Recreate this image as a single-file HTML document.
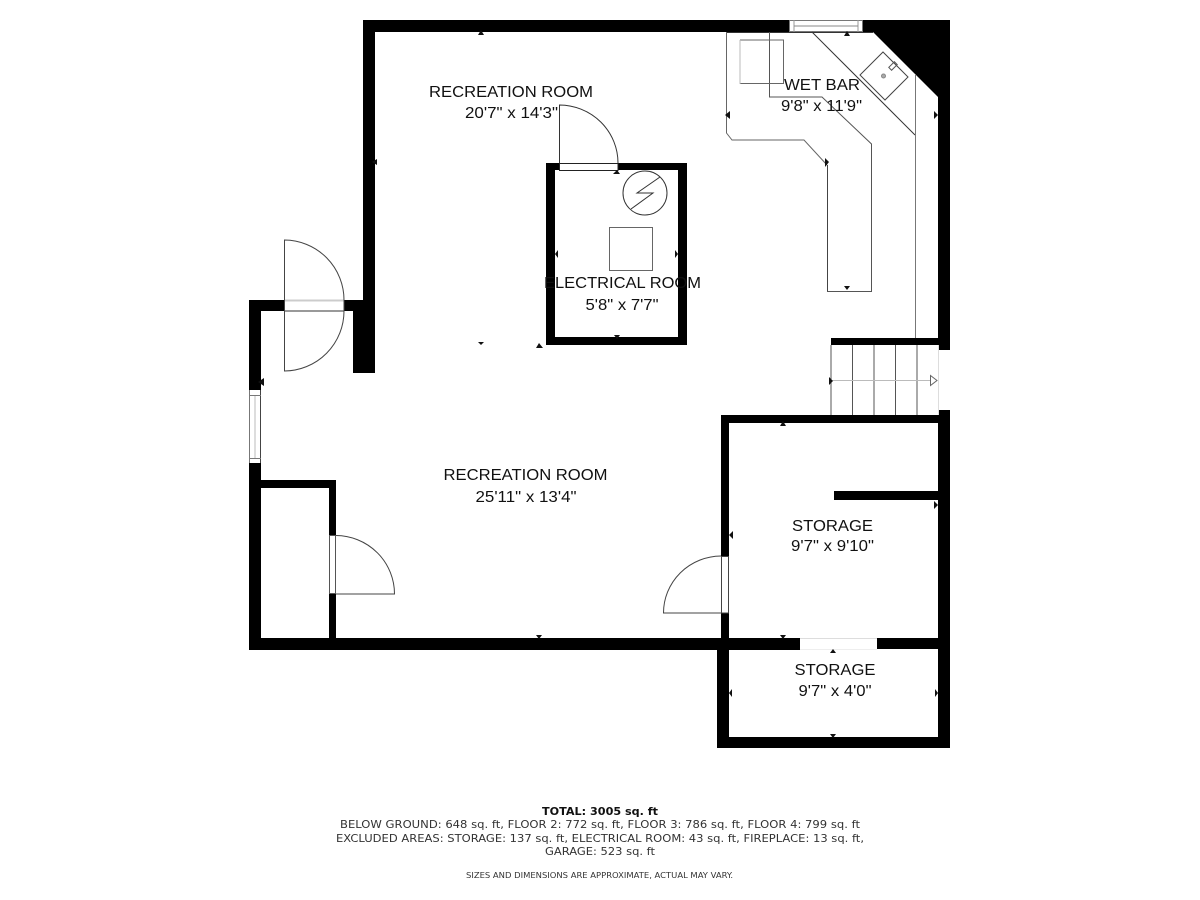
<!DOCTYPE html>
<html><head><meta charset="utf-8"><style>
html,body{margin:0;padding:0;background:#fff}
svg{display:block}
.r{font-family:"Liberation Sans",Arial,sans-serif;font-size:16px;fill:#111;text-anchor:middle}
.f{font-family:"DejaVu Sans",Verdana,sans-serif;font-size:10.5px;fill:#333;text-anchor:middle}
</style></head><body>
<svg width="1200" height="900" viewBox="0 0 1200 900" xmlns="http://www.w3.org/2000/svg">
<rect width="1200" height="900" fill="#fff"/>
<!-- walls -->
<g fill="#000">
<rect x="363" y="20" width="426" height="12"/>
<rect x="363" y="20" width="12" height="280"/>
<polygon points="863,20 950,20 950,350 938,350 938,97 873,32 863,32"/>
<rect x="344" y="300" width="31" height="11"/>
<rect x="353" y="300" width="22" height="73"/>
<rect x="249" y="300" width="35" height="11"/>
<rect x="249" y="300" width="12" height="90"/>
<rect x="249" y="463" width="12" height="187"/>
<rect x="261" y="480" width="75" height="8"/>
<rect x="329" y="480" width="7" height="55"/>
<rect x="329" y="594" width="7" height="50"/>
<rect x="249" y="638" width="551" height="12"/>
<rect x="877" y="638" width="73" height="11"/>
<rect x="721" y="415" width="229" height="8"/>
<rect x="938" y="410" width="12" height="338"/>
<rect x="721" y="415" width="8" height="141"/>
<rect x="721" y="613" width="8" height="30"/>
<rect x="717" y="644" width="12" height="104"/>
<rect x="717" y="737" width="233" height="11"/>
<rect x="834" y="491" width="104" height="9"/>
<rect x="831" y="338" width="107" height="7"/>
<!-- electrical room -->
<rect x="546" y="163" width="9" height="182"/>
<rect x="678" y="163" width="9" height="182"/>
<rect x="546" y="337" width="141" height="8"/>
<rect x="618" y="163" width="69" height="7"/>
<rect x="546" y="163" width="13" height="7"/>
</g>
<!-- fine lines -->
<g fill="none" stroke="#333" stroke-width="1">
<!-- top window -->
<rect x="789.5" y="20.5" width="73" height="11" stroke="#777"/>
<line x1="794" y1="20" x2="794" y2="32" stroke="#999"/>
<line x1="858" y1="20" x2="858" y2="32" stroke="#999"/>
<line x1="794" y1="26" x2="858" y2="26" stroke="#888"/>
<line x1="726" y1="32.5" x2="873" y2="32.5"/>
<!-- wet bar -->
<polyline points="726.5,32 726.5,133 732,140 804,140 827,165" stroke="#666"/>
<line x1="827.5" y1="165" x2="827.5" y2="291.5" stroke="#444"/>
<polyline points="769.5,32 769.5,97 822,97 871.5,144 871.5,291.5 827,291.5" stroke="#555"/>
<line x1="812" y1="32" x2="915" y2="135"/>
<line x1="915.5" y1="75" x2="915.5" y2="338" stroke="#777"/>
<polyline points="740,40 783.5,40 783.5,83.5 740,83.5" stroke="#666"/>
<line x1="740" y1="40" x2="740" y2="84" stroke="#bbb"/>
<polygon points="883,52 908,77 885,100 860,75" stroke="#444"/>
<circle cx="883.5" cy="76" r="2" stroke="#888" fill="#aaa"/>
<rect x="-4" y="-2" width="8" height="4" transform="translate(893,66) rotate(-45)" stroke="#555"/>
<!-- electrical details -->
<rect x="559.5" y="163.5" width="58.5" height="7" stroke="#222" fill="#fff"/>
<path d="M559.5,163 V105 A59,58 0 0 1 618,163"/>
<circle cx="645" cy="193" r="22"/>
<polyline points="631,209 653,193 637,193 660,177"/>
<rect x="609.5" y="227.5" width="43" height="43" stroke="#666"/>
<!-- left doors -->
<line x1="284" y1="300.5" x2="344" y2="300.5" stroke="#ccc" stroke-width="2"/>
<line x1="284" y1="311" x2="344" y2="311"/>
<path d="M284.5,300 V240 A60,60 0 0 1 344,300 V311 A60,60 0 0 1 284.5,371 V311 Z" stroke="#444"/>
<!-- left window -->
<g stroke="#777">
<line x1="249.5" y1="390" x2="249.5" y2="463"/>
<line x1="260.5" y1="390" x2="260.5" y2="463" stroke="#444"/>
<line x1="255" y1="395" x2="255" y2="458" stroke="#bbb"/>
<line x1="249" y1="395.5" x2="261" y2="395.5"/>
<line x1="249" y1="458.5" x2="261" y2="458.5"/>
</g>
<!-- closet door -->
<rect x="329.5" y="535.5" width="6" height="58" stroke="#555"/>
<path d="M336,535.5 A59,58.5 0 0 1 394.5,594 H336" stroke="#444"/>
<!-- storage door -->
<rect x="721.5" y="556.5" width="7" height="56.5" stroke="#444"/>
<path d="M721,556 A58,57 0 0 0 663.5,613 H721" stroke="#444"/>
<!-- stairs -->
<g stroke="#555">
<line x1="831" y1="345" x2="831" y2="415"/>
<line x1="852.5" y1="345" x2="852.5" y2="415"/>
<line x1="874" y1="345" x2="874" y2="415"/>
<line x1="895.5" y1="345" x2="895.5" y2="415"/>
<line x1="917" y1="345" x2="917" y2="415"/>
</g>
<line x1="831" y1="380.5" x2="930" y2="380.5" stroke="#bbb"/>
<line x1="938.5" y1="345" x2="938.5" y2="415" stroke="#ddd"/>
<polygon points="930.5,375.5 937,380.5 930.5,385.5" stroke="#666" fill="#fff"/>
<!-- lower opening -->
<line x1="800" y1="638.5" x2="877" y2="638.5" stroke="#ddd"/>
<line x1="800" y1="649.5" x2="877" y2="649.5" stroke="#eee"/>
</g>
<!-- small markers -->
<g fill="#111">
<polygon points="478,35 484,35 481,30"/>
<polygon points="844,36 850,36 847,31"/>
<polygon points="372,162 377,159 377,165"/>
<polygon points="478,342 484,342 481,345"/>
<polygon points="536,348 543,348 539,343"/>
<polygon points="258,382 264,378 264,386"/>
<polygon points="536,635 542,635 539,639"/>
<polygon points="780,426 786,426 783,421"/>
<polygon points="729,535 733,531 733,539"/>
<polygon points="938,505 934,501 934,509"/>
<polygon points="844,286 850,286 847,290"/>
<polygon points="829,162 825,158 825,167"/>
<polygon points="725,115 730,111 730,119"/>
<polygon points="938,115 934,111 934,119"/>
<polygon points="613,174 620,174 617,170"/>
<polygon points="555,254 558,250 558,258"/>
<polygon points="678,254 675,250 675,258"/>
<polygon points="614,335 620,335 617,339"/>
<polygon points="829,377 829,385 833,381"/>
<polygon points="780,635 786,635 783,639"/>
<polygon points="830,653 836,653 833,649"/>
<polygon points="729,693 732,689 732,697"/>
<polygon points="938,693 935,689 935,697"/>
<polygon points="830,734 836,734 833,738"/>
</g>
<!-- labels -->
<text class="r" x="511" y="97" textLength="164" lengthAdjust="spacingAndGlyphs">RECREATION ROOM</text>
<text class="r" x="511.5" y="118" textLength="93" lengthAdjust="spacingAndGlyphs">20'7" x 14'3"</text>
<text class="r" x="822" y="90" textLength="76" lengthAdjust="spacingAndGlyphs">WET BAR</text>
<text class="r" x="821.5" y="111" textLength="81" lengthAdjust="spacingAndGlyphs">9'8" x 11'9"</text>
<text class="r" x="622.5" y="288" textLength="157" lengthAdjust="spacingAndGlyphs">ELECTRICAL ROOM</text>
<text class="r" x="622" y="310" textLength="73" lengthAdjust="spacingAndGlyphs">5'8" x 7'7"</text>
<text class="r" x="525.5" y="480" textLength="164" lengthAdjust="spacingAndGlyphs">RECREATION ROOM</text>
<text class="r" x="526" y="502" textLength="101" lengthAdjust="spacingAndGlyphs">25'11" x 13'4"</text>
<text class="r" x="832.5" y="531" textLength="81" lengthAdjust="spacingAndGlyphs">STORAGE</text>
<text class="r" x="832.5" y="551" textLength="83" lengthAdjust="spacingAndGlyphs">9'7" x 9'10"</text>
<text class="r" x="835" y="675" textLength="81" lengthAdjust="spacingAndGlyphs">STORAGE</text>
<text class="r" x="835" y="696" textLength="73" lengthAdjust="spacingAndGlyphs">9'7" x 4'0"</text>
<!-- footer -->
<text class="f" x="600" y="815" textLength="116" lengthAdjust="spacingAndGlyphs" font-weight="bold" style="fill:#111">TOTAL: 3005 sq. ft</text>
<text class="f" x="600" y="828" textLength="520" lengthAdjust="spacingAndGlyphs">BELOW GROUND: 648 sq. ft, FLOOR 2: 772 sq. ft, FLOOR 3: 786 sq. ft, FLOOR 4: 799 sq. ft</text>
<text class="f" x="600" y="842" textLength="528" lengthAdjust="spacingAndGlyphs">EXCLUDED AREAS: STORAGE: 137 sq. ft, ELECTRICAL ROOM: 43 sq. ft, FIREPLACE: 13 sq. ft,</text>
<text class="f" x="600" y="855" textLength="110" lengthAdjust="spacingAndGlyphs">GARAGE: 523 sq. ft</text>
<text class="f" x="599.5" y="878" textLength="267" lengthAdjust="spacingAndGlyphs" style="font-size:8px">SIZES AND DIMENSIONS ARE APPROXIMATE, ACTUAL MAY VARY.</text>
</svg>
</body></html>
